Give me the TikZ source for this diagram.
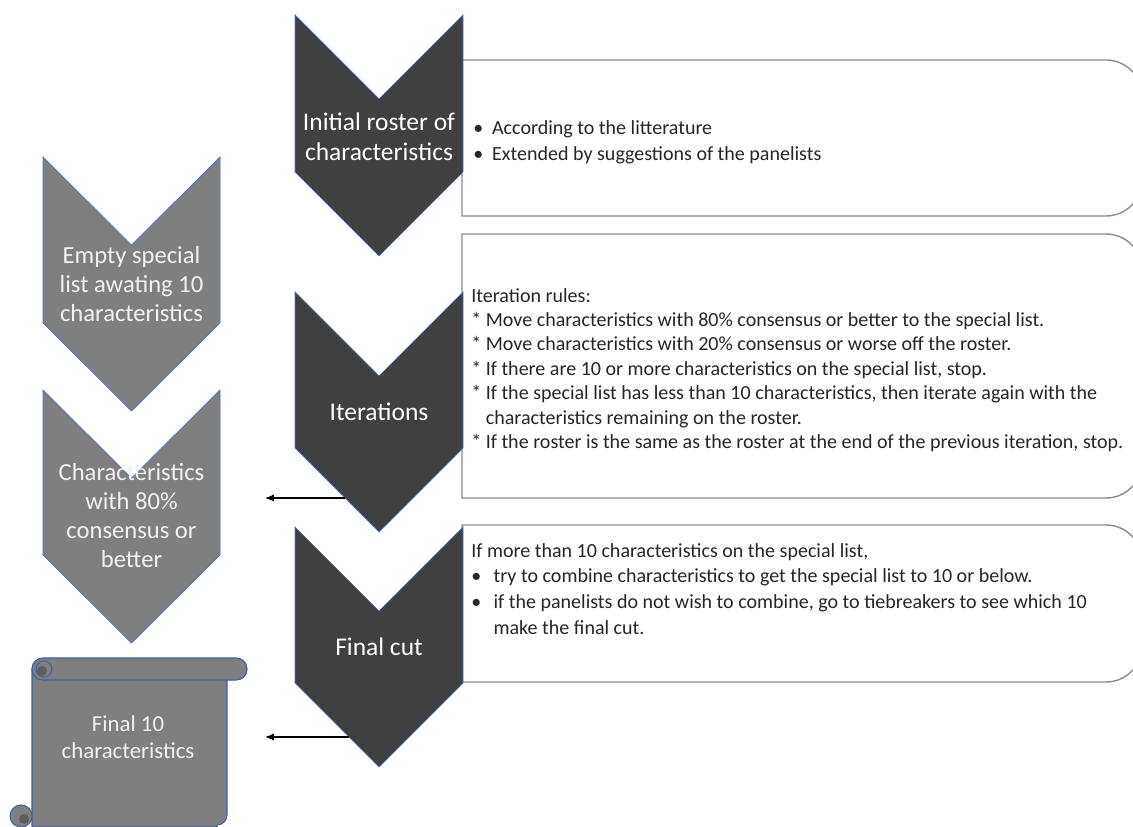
\documentclass[tikz,border=0pt]{standalone}
\usepackage{fontspec}
\setmainfont{Carlito}
\usetikzlibrary{arrows.meta}
\definecolor{chevdark}{HTML}{404040}
\definecolor{chevlight}{HTML}{7F7F7F}
\definecolor{chevedge}{HTML}{4472C4}
\definecolor{boxedge}{HTML}{8C8C8C}
\definecolor{scrolledge}{HTML}{41619C}
\definecolor{curl}{HTML}{5E5E5E}
\definecolor{paletext}{HTML}{F2F2F2}

\begin{document}
\begin{tikzpicture}[x=0.02cm,y=-0.02cm,
    darkchev/.style={fill=chevdark,draw=chevedge,line width=0.4pt},
    lightchev/.style={fill=chevlight,draw=chevedge,line width=0.4pt},
    listbox/.style={draw=boxedge,line width=0.8pt,fill=white},
    scroll/.style={fill=chevlight,draw=scrolledge,line width=0.6pt},
    chevtext/.style={text=white,align=center,inner sep=0,font=\fontsize{14.5}{17}\selectfont},
    sidetext/.style={text=paletext,align=center,inner sep=0,font=\fontsize{14}{16.5}\selectfont},
    rulestext/.style={anchor=west,align=left,inner sep=0,text=black!85,font=\fontsize{11.4}{14.7}\selectfont},
    flow/.style={-{Latex[length=5pt,width=4pt]},line width=0.6pt}]

\useasboundingbox (0,0) rectangle (1133,827);
\clip (0,0) rectangle (1133,827);

% text boxes on the right
\draw[listbox] (462,60) -- (1106,60) arc[start angle=-90,end angle=0,radius=36]
    -- (1142,180) arc[start angle=0,end angle=90,radius=36] -- (462,216) -- cycle;
\draw[listbox] (462,234) -- (1106,234) arc[start angle=-90,end angle=0,radius=36]
    -- (1142,462) arc[start angle=0,end angle=90,radius=36] -- (462,498) -- cycle;
\draw[listbox] (462,525) -- (1106,525) arc[start angle=-90,end angle=0,radius=36]
    -- (1142,646) arc[start angle=0,end angle=90,radius=36] -- (462,682) -- cycle;

% main chevrons
\draw[darkchev] (295,15) -- (379,99) -- (463,15) -- (463,172) -- (379,256) -- (295,172) -- cycle;
\draw[darkchev] (295,292) -- (379,376) -- (463,292) -- (463,448) -- (379,532) -- (295,448) -- cycle;
\draw[darkchev] (295,527) -- (379,611) -- (463,527) -- (463,683) -- (379,767) -- (295,683) -- cycle;

\node[chevtext] (initial) at (379,137) {Initial roster of\\characteristics};
\node[chevtext] (iter) at (379,412) {Iterations};
\node[chevtext] (cut) at (379,647) {Final cut};

% special list
\draw[lightchev] (43,157) -- (131.5,245) -- (220,157) -- (220,323) -- (131.5,411) -- (43,323) -- cycle;
\draw[lightchev] (43,390) -- (131.5,478) -- (220,390) -- (220,555) -- (131.5,643) -- (43,555) -- cycle;

\node[sidetext] (empty) at (131.5,284) {Empty special\\list awating 10\\characteristics};
\node[sidetext] (consensus) at (131.5,516) {Characteristics\\with 80\%\\consensus or\\better};

% scroll
\draw[scroll] (32,669) -- (32,827) -- (217,827) -- (217,825) arc[start angle=90,end angle=0,radius=10] -- (227,669);
\draw[scroll] (21,816) circle (11);
\fill[curl] (24,819) circle (5);
\draw[scroll,rounded corners=6pt] (32,658) rectangle (247,680);
\draw[scroll] (44,669) circle (8);
\fill[curl] (42,671) circle (5);
\node[sidetext,font=\fontsize{13}{15.3}\selectfont] (final) at (128,737) {Final 10\\characteristics};

% box texts
\node[rulestext] (litt) at (473,142)
    {\textbullet\hspace{5pt}According to the litterature\\
     \textbullet\hspace{5pt}Extended by suggestions of the panelists};
\node[rulestext,font=\fontsize{11.4}{13.9}\selectfont] (rules) at (471,370)
    {Iteration rules:\\
     * Move characteristics with 80\% consensus or better to the special list.\\
     * Move characteristics with 20\% consensus or worse off the roster.\\
     * If there are 10 or more characteristics on the special list, stop.\\
     * If the special list has less than 10 characteristics, then iterate again with the\\
     \hphantom{* }characteristics remaining on the roster.\\
     * If the roster is the same as the roster at the end of the previous iteration, stop.};
\node[rulestext] (cutrules) at (471,589)
    {If more than 10 characteristics on the special list,\\
     \textbullet\hspace{7pt}try to combine characteristics to get the special list to 10 or below.\\
     \textbullet\hspace{7pt}if the panelists do not wish to combine, go to tiebreakers to see which 10\\
     \hphantom{\textbullet\hspace{7pt}}make the final cut.};

% flow to the left column
\coordinate (iteredge) at (345,498);
\coordinate (consensusend) at (265,498);
\coordinate (cutedge) at (349,737);
\coordinate (finalend) at (265,737);
\draw[flow] (iteredge) -- (consensusend);
\draw[flow] (cutedge) -- (finalend);
\end{tikzpicture}
\end{document}
